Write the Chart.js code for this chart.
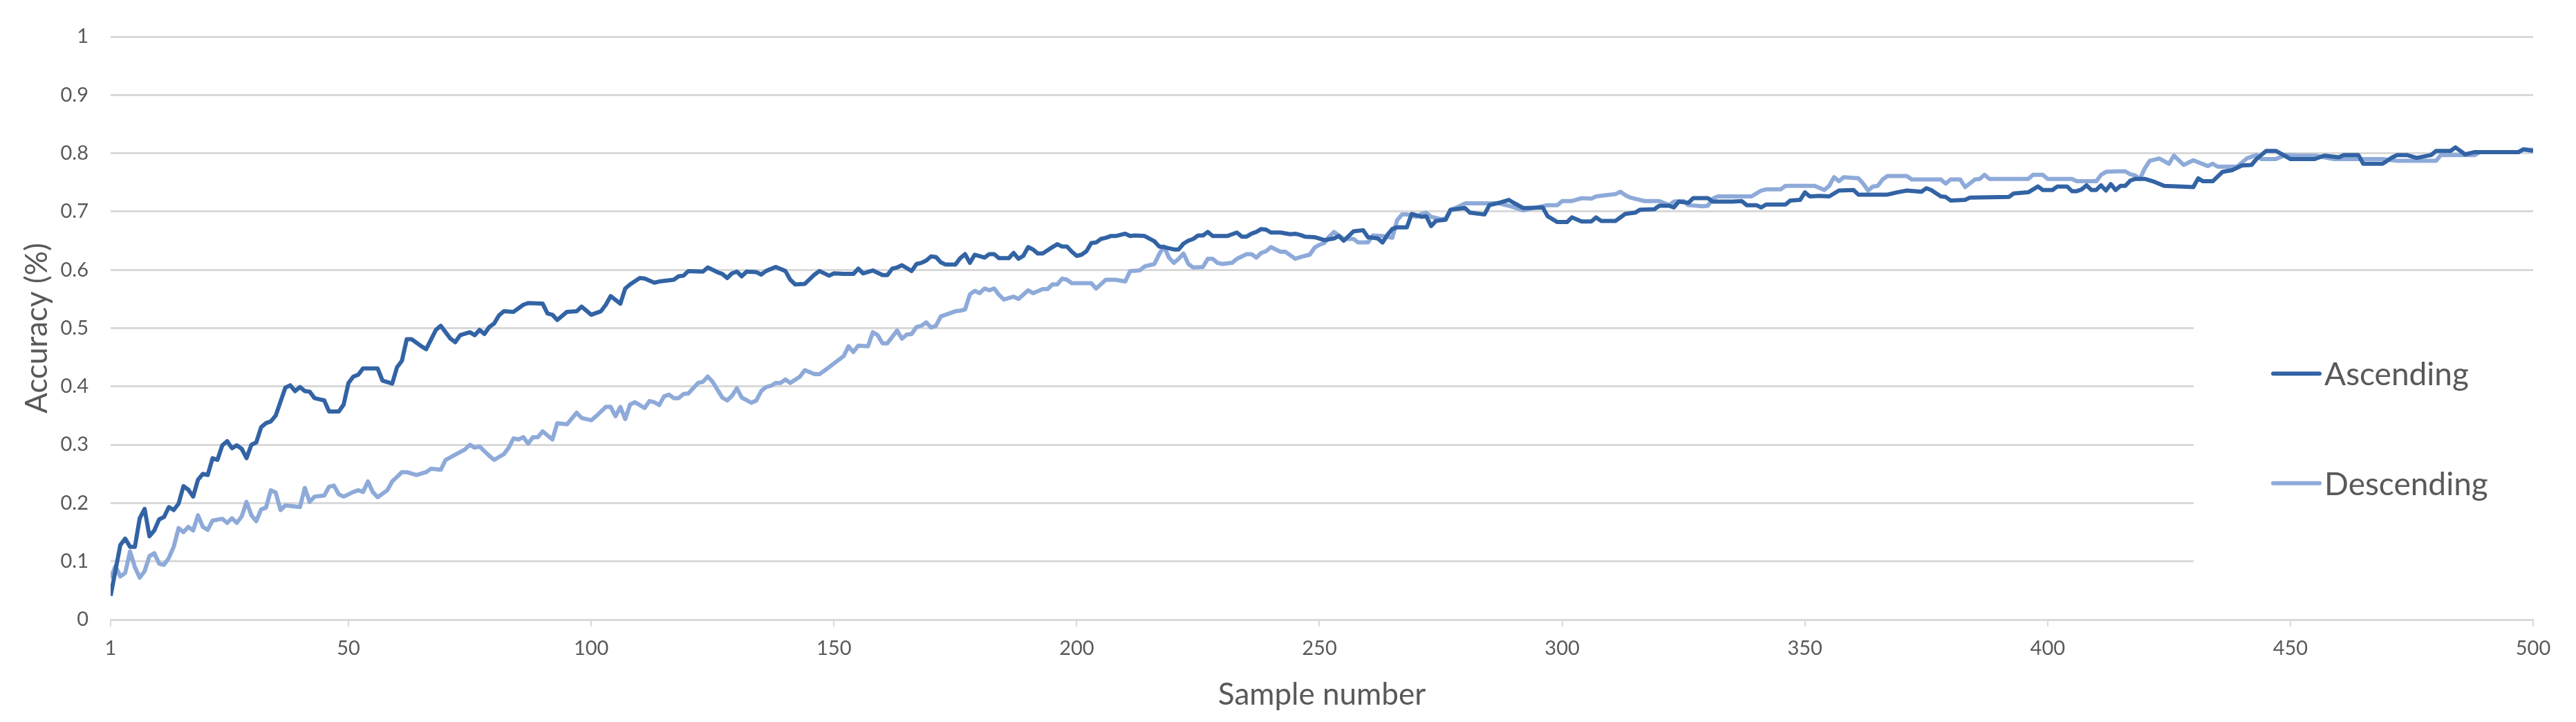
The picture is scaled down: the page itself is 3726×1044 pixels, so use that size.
<!DOCTYPE html>
<html>
<head>
<meta charset="utf-8">
<title>Accuracy by sample number</title>
<script src="https://cdn.jsdelivr.net/npm/chart.js@4.4.1/dist/chart.umd.min.js"></script>
<style>
	html, body { margin: 0; padding: 0; background: #ffffff; }
	#wrap { position: relative; width: 3726px; height: 1044px; }
</style>
</head>
<body>
<div id="wrap"><canvas id="accuracyChart"></canvas></div>
<script>
// sample numbers and accuracy (vertices of each line)
const ascSample = [1,3,4,5,6,7,8,9,10,11,12,13,14,15,16,17,18,19,20,21,22,23,24,25,26,27,28,29,30,31,32,33,34,35,37,38,39,40,41,42,43,44,45,46,48,49,50,51,52,53,56,57,59,60,61,62,63,65,66,68,69,71,72,73,75,76,77,78,79,80,81,82,84,86,87,90,91,92,93,95,97,98,100,102,103,104,106,107,108,110,111,113,114,117,118,119,120,123,124,126,127,128,129,130,131,132,134,135,136,138,140,141,142,144,146,147,149,150,152,154,155,156,158,160,161,162,163,164,166,167,168,169,170,171,172,173,175,176,177,178,179,181,182,183,184,186,187,188,189,190,191,192,193,195,196,197,198,199,200,201,202,203,204,205,206,207,208,210,211,212,214,216,217,218,220,221,222,223,224,225,226,227,228,231,232,233,234,235,236,237,238,239,240,242,244,245,246,247,249,251,253,254,255,257,259,260,261,262,263,264,265,266,268,269,271,272,273,274,276,277,280,281,284,285,287,289,290,292,293,296,297,299,301,302,304,306,307,308,311,313,315,316,319,320,322,323,324,326,327,330,331,335,337,338,340,341,342,346,347,349,350,351,353,355,357,360,361,367,369,371,374,375,376,378,379,380,383,384,392,393,396,398,399,401,402,404,405,406,407,408,409,410,411,412,413,414,415,416,417,418,420,422,424,430,431,432,434,436,438,440,442,443,445,447,449,450,455,457,460,461,464,465,469,471,472,474,476,479,480,483,484,486,488,497,498,500];
const ascAccuracy = [0.041,0.128,0.139,0.125,0.125,0.174,0.190,0.143,0.153,0.172,0.176,0.193,0.188,0.199,0.229,0.223,0.211,0.240,0.250,0.248,0.277,0.274,0.299,0.306,0.294,0.299,0.293,0.277,0.300,0.304,0.330,0.337,0.340,0.350,0.398,0.402,0.392,0.399,0.392,0.391,0.380,0.378,0.376,0.357,0.357,0.369,0.406,0.417,0.420,0.431,0.431,0.410,0.405,0.433,0.444,0.481,0.481,0.469,0.464,0.497,0.504,0.482,0.476,0.488,0.493,0.488,0.497,0.490,0.502,0.508,0.522,0.529,0.528,0.540,0.543,0.542,0.525,0.523,0.514,0.528,0.529,0.537,0.523,0.529,0.540,0.555,0.542,0.568,0.575,0.586,0.585,0.578,0.580,0.583,0.589,0.590,0.598,0.597,0.604,0.596,0.593,0.586,0.594,0.597,0.589,0.597,0.596,0.592,0.598,0.605,0.598,0.583,0.575,0.576,0.592,0.598,0.590,0.594,0.593,0.593,0.602,0.594,0.599,0.591,0.591,0.602,0.604,0.608,0.598,0.610,0.612,0.616,0.623,0.622,0.613,0.609,0.609,0.620,0.627,0.612,0.626,0.621,0.627,0.627,0.620,0.620,0.629,0.619,0.624,0.639,0.635,0.628,0.628,0.639,0.644,0.640,0.640,0.631,0.624,0.626,0.632,0.646,0.647,0.653,0.655,0.658,0.658,0.662,0.658,0.659,0.658,0.649,0.640,0.639,0.635,0.635,0.645,0.650,0.653,0.659,0.659,0.665,0.658,0.658,0.661,0.664,0.657,0.657,0.662,0.665,0.670,0.669,0.664,0.664,0.661,0.662,0.660,0.657,0.656,0.651,0.654,0.658,0.650,0.666,0.668,0.656,0.655,0.654,0.647,0.660,0.670,0.673,0.673,0.696,0.691,0.692,0.675,0.684,0.686,0.703,0.706,0.698,0.695,0.711,0.715,0.720,0.715,0.706,0.706,0.707,0.692,0.682,0.682,0.690,0.683,0.683,0.690,0.684,0.684,0.696,0.698,0.703,0.704,0.710,0.710,0.707,0.717,0.715,0.723,0.723,0.717,0.717,0.718,0.711,0.711,0.707,0.712,0.712,0.719,0.720,0.733,0.726,0.727,0.726,0.736,0.737,0.729,0.729,0.733,0.736,0.734,0.740,0.737,0.726,0.725,0.719,0.720,0.724,0.725,0.731,0.733,0.743,0.737,0.737,0.743,0.743,0.735,0.735,0.738,0.745,0.737,0.737,0.745,0.736,0.747,0.737,0.744,0.744,0.753,0.756,0.756,0.751,0.744,0.742,0.757,0.752,0.752,0.768,0.771,0.779,0.780,0.790,0.804,0.804,0.795,0.790,0.790,0.796,0.793,0.797,0.797,0.782,0.782,0.793,0.797,0.797,0.792,0.797,0.804,0.804,0.810,0.798,0.802,0.802,0.807,0.804];

const descSample = [1,2,3,4,5,6,7,8,9,10,11,12,13,14,15,16,17,18,19,20,21,22,24,25,26,27,28,29,30,31,32,33,34,35,36,37,40,41,42,43,45,46,47,48,49,51,52,53,54,55,56,58,59,61,62,64,66,67,69,70,72,74,75,76,77,79,80,82,83,84,85,86,87,88,89,90,92,93,95,97,98,100,101,103,104,105,106,107,108,109,111,112,113,114,115,116,117,118,119,120,122,123,124,125,127,128,129,130,131,133,134,135,136,137,138,139,140,141,143,144,146,147,149,152,153,154,155,157,158,159,160,161,163,164,165,166,167,168,169,170,171,172,173,175,176,177,178,179,180,181,182,183,184,185,187,188,190,191,193,194,195,196,197,198,199,203,204,206,208,210,211,213,214,216,217,218,219,220,221,222,223,224,226,227,228,229,230,232,233,235,236,237,238,239,240,241,242,243,245,247,248,249,250,251,252,253,255,257,258,260,261,263,265,266,267,268,270,271,272,273,275,276,277,278,280,284,287,289,292,294,297,299,300,302,304,306,307,309,311,312,313,314,315,317,320,322,323,325,326,329,330,331,332,339,341,342,345,346,352,354,355,356,357,358,361,362,363,364,365,366,367,371,372,378,379,380,382,383,385,386,387,388,396,397,399,400,405,406,410,411,412,414,416,417,418,419,420,421,423,425,426,428,430,433,434,435,439,441,443,444,447,449,452,455,459,465,469,472,480,481,488,489,497,498,500];
const descAccuracy = [0.071,0.092,0.074,0.080,0.117,0.090,0.072,0.083,0.109,0.114,0.096,0.094,0.106,0.125,0.157,0.150,0.159,0.153,0.179,0.159,0.154,0.170,0.173,0.166,0.174,0.166,0.177,0.202,0.179,0.169,0.189,0.192,0.222,0.218,0.188,0.196,0.193,0.226,0.202,0.211,0.213,0.228,0.230,0.215,0.211,0.219,0.222,0.219,0.237,0.219,0.210,0.222,0.237,0.253,0.253,0.248,0.253,0.259,0.257,0.274,0.283,0.292,0.300,0.295,0.297,0.281,0.274,0.284,0.295,0.311,0.309,0.313,0.302,0.313,0.313,0.323,0.309,0.337,0.335,0.355,0.346,0.342,0.349,0.365,0.365,0.349,0.365,0.344,0.369,0.373,0.363,0.375,0.373,0.368,0.383,0.386,0.380,0.380,0.387,0.388,0.406,0.408,0.417,0.408,0.381,0.376,0.384,0.397,0.381,0.372,0.376,0.392,0.399,0.401,0.406,0.406,0.412,0.406,0.417,0.428,0.421,0.421,0.433,0.452,0.469,0.459,0.470,0.469,0.493,0.488,0.474,0.474,0.496,0.482,0.489,0.490,0.502,0.504,0.510,0.501,0.504,0.520,0.523,0.529,0.530,0.532,0.558,0.564,0.560,0.568,0.565,0.568,0.557,0.549,0.554,0.550,0.565,0.560,0.567,0.567,0.575,0.575,0.585,0.583,0.577,0.577,0.568,0.583,0.583,0.580,0.598,0.599,0.606,0.610,0.627,0.640,0.621,0.612,0.619,0.628,0.610,0.604,0.605,0.619,0.619,0.612,0.610,0.612,0.619,0.627,0.627,0.621,0.629,0.632,0.639,0.635,0.631,0.631,0.619,0.624,0.626,0.638,0.643,0.646,0.657,0.665,0.653,0.653,0.647,0.647,0.659,0.658,0.655,0.685,0.695,0.695,0.691,0.696,0.698,0.691,0.687,0.688,0.703,0.706,0.714,0.714,0.714,0.710,0.702,0.706,0.711,0.711,0.718,0.718,0.723,0.722,0.726,0.728,0.730,0.734,0.728,0.724,0.722,0.718,0.718,0.711,0.717,0.718,0.711,0.709,0.710,0.722,0.726,0.726,0.736,0.738,0.738,0.744,0.744,0.737,0.744,0.759,0.752,0.759,0.757,0.748,0.736,0.743,0.744,0.755,0.761,0.761,0.755,0.755,0.748,0.755,0.755,0.742,0.755,0.756,0.763,0.756,0.756,0.763,0.763,0.756,0.756,0.752,0.752,0.763,0.768,0.769,0.769,0.764,0.762,0.756,0.774,0.787,0.791,0.782,0.796,0.780,0.788,0.778,0.782,0.777,0.777,0.791,0.797,0.790,0.790,0.797,0.796,0.796,0.790,0.790,0.790,0.787,0.787,0.797,0.797,0.802,0.802,0.806,0.806];

const xTickLabels = [1, 50, 100, 150, 200, 250, 300, 350, 400, 450, 500];
const seriesNames = ['Ascending', 'Descending'];
const seriesColors = ['#3263a4', '#8eaad9'];

function toPoints(xs, ys) {
	return xs.map((x, i) => ({ x: x, y: ys[i] }));
}

// Excel style legend sitting on a white box inside the plot, right side
const sideLegend = {
	id: 'sideLegend',
	afterDraw(chart) {
		const ctx = chart.ctx;
		const area = chart.chartArea;
		const yScale = chart.scales.y;
		ctx.save();
		ctx.fillStyle = '#ffffff';
		const top = yScale.getPixelForValue(0.56);
		const bottom = yScale.getPixelForValue(0.05);
		ctx.fillRect(area.right - 491, top, 600, bottom - top);

		const rows = [yScale.getPixelForValue(0.422), yScale.getPixelForValue(0.234)];
		chart.data.datasets.forEach((ds, i) => {
			const y = rows[i];
			ctx.strokeStyle = ds.borderColor;
			ctx.lineWidth = 6;
			ctx.lineCap = 'round';
			ctx.beginPath();
			ctx.moveTo(area.right - 376, y);
			ctx.lineTo(area.right - 309, y);
			ctx.stroke();
			ctx.fillStyle = '#595959';
			ctx.font = '46px Lato';
			ctx.textBaseline = 'middle';
			ctx.textAlign = 'left';
			ctx.fillText(ds.label, area.right - 302, y + 2);
		});
		ctx.restore();
	}
};

Chart.defaults.font.family = 'Lato';
Chart.defaults.color = '#595959';

const ctx = document.getElementById('accuracyChart').getContext('2d');
const accuracyChart = new Chart(ctx, {
	type: 'line',
	data: {
		datasets: [
			{
				label: seriesNames[0],
				data: toPoints(ascSample, ascAccuracy),
				borderColor: seriesColors[0],
				backgroundColor: seriesColors[0],
				borderWidth: 6,
				pointRadius: 0,
				tension: 0,
				borderJoinStyle: 'round'
			},
			{
				label: seriesNames[1],
				data: toPoints(descSample, descAccuracy),
				borderColor: seriesColors[1],
				backgroundColor: seriesColors[1],
				borderWidth: 6,
				pointRadius: 0,
				tension: 0,
				borderJoinStyle: 'round'
			}
		]
	},
	options: {
		responsive: true,
		maintainAspectRatio: false,
		animation: false,
		devicePixelRatio: 1,
		layout: {
			padding: { top: 53, right: 62, bottom: 0, left: 0 }
		},
		plugins: {
			legend: { display: false },
			tooltip: { enabled: false }
		},
		scales: {
			x: {
				type: 'linear',
				min: 1,
				max: 500,
				afterBuildTicks: function (scale) {
					scale.ticks = xTickLabels.map(v => ({ value: v }));
				},
				afterFit: function (scale) {
					scale.height = 148;
				},
				grid: {
					drawOnChartArea: false,
					drawTicks: true,
					tickLength: 10,
					color: '#d9d9d9',
					lineWidth: 2
				},
				border: { display: true, color: '#d9d9d9', width: 3 },
				ticks: {
					font: { size: 29 },
					color: '#595959',
					padding: 14,
					maxRotation: 0,
					autoSkip: false
				},
				title: {
					display: true,
					text: 'Sample number',
					font: { size: 44 },
					color: '#595959',
					padding: { top: 0, bottom: 13 }
				}
			},
			y: {
				min: 0,
				max: 1,
				afterFit: function (scale) {
					scale.width = 160;
				},
				grid: {
					color: '#d9d9d9',
					lineWidth: 3,
					drawTicks: false
				},
				border: { display: false },
				ticks: {
					stepSize: 0.1,
					font: { size: 29 },
					color: '#595959',
					padding: 32,
					callback: v => String(+v.toFixed(1))
				},
				title: {
					display: true,
					text: 'Accuracy (%)',
					font: { size: 44 },
					color: '#595959',
					padding: { top: 27, bottom: 0 }
				}
			}
		}
	},
	plugins: [sideLegend]
});
</script>
</body>
</html>
